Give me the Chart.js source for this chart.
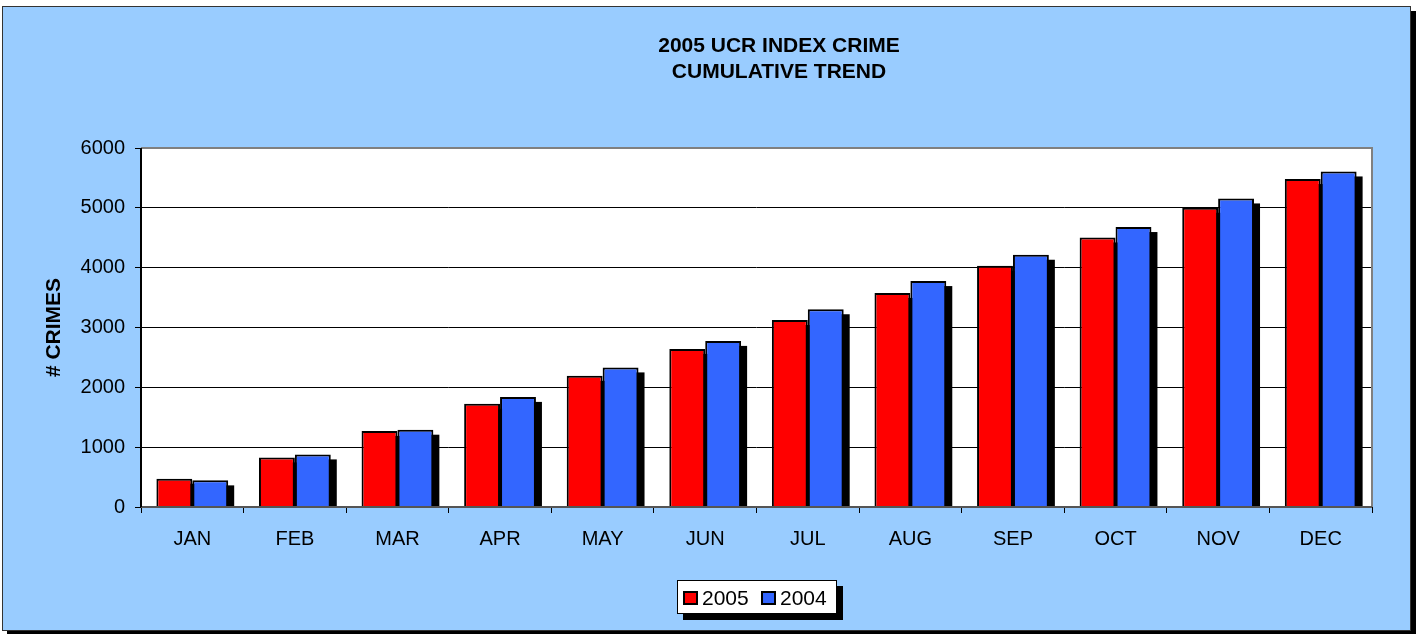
<!DOCTYPE html>
<html>
<head>
<meta charset="utf-8">
<script src="https://cdn.jsdelivr.net/npm/chart.js@4.4.1/dist/chart.umd.min.js"></script>
<style>
html,body{margin:0;padding:0;background:#fff;}
#wrap{position:relative;width:1416px;height:634px;}
canvas{display:block;}
</style>
</head>
<body>
<div id="wrap"><canvas id="c" width="1416" height="634"></canvas></div>
<script>
const months = ['JAN','FEB','MAR','APR','MAY','JUN','JUL','AUG','SEP','OCT','NOV','DEC'];
const crimes2005 = [473, 829, 1272, 1726, 2192, 2642, 3125, 3578, 4032, 4505, 5001, 5481];
const crimes2004 = [445, 879, 1292, 1840, 2333, 2776, 3305, 3776, 4216, 4679, 5157, 5608];
const seriesNames = ['2005', '2004'];
const seriesColors = ['#FF0000', '#3366FF'];
const titleLines = ['2005 UCR INDEX CRIME', 'CUMULATIVE TREND'];
const yAxisTitle = '# CRIMES';
const yTicks = [0, 1000, 2000, 3000, 4000, 5000, 6000];

const FONT = '"Liberation Sans", Arial, Helvetica, sans-serif';

const framePlugin = {
  id: 'frame',
  beforeDraw(chart) {
    const ctx = chart.ctx;
    const a = chart.chartArea;
    ctx.save();
    ctx.fillStyle = '#FFFFFF';
    ctx.fillRect(0, 0, chart.width, chart.height);
    ctx.fillStyle = '#000000';
    ctx.fillRect(7, 11, chart.width - 7, chart.height - 11);
    ctx.fillStyle = '#99CCFF';
    ctx.fillRect(2, 6, 1409, 625);
    ctx.strokeStyle = '#333333';
    ctx.lineWidth = 1;
    ctx.strokeRect(2.5, 6.5, 1408, 624);
    ctx.fillStyle = '#FFFFFF';
    ctx.fillRect(a.left, a.top, a.right - a.left, a.bottom - a.top);
    ctx.restore();
  },
  beforeDatasetsDraw(chart) {
    const ctx = chart.ctx;
    const a = chart.chartArea;
    ctx.save();
    ctx.beginPath();
    ctx.rect(a.left, a.top, a.right - a.left, a.bottom - a.top - 1);
    ctx.clip();
    ctx.fillStyle = '#000000';
    chart.data.datasets.forEach((ds, i) => {
      const meta = chart.getDatasetMeta(i);
      meta.data.forEach(bar => {
        const p = bar.getProps(['x', 'y', 'base', 'width'], true);
        ctx.fillRect(p.x - p.width / 2 + 6, p.y + 5, p.width, p.base - p.y);
      });
    });
    ctx.restore();
  },
  afterDatasetsDraw(chart) {
    const ctx = chart.ctx;
    const a = chart.chartArea;
    ctx.save();
    ctx.strokeStyle = '#808080';
    ctx.lineWidth = 2;
    ctx.beginPath();
    ctx.moveTo(a.left, a.top);
    ctx.lineTo(a.right, a.top);
    ctx.lineTo(a.right, a.bottom);
    ctx.stroke();
    ctx.strokeStyle = '#555555';
    ctx.lineWidth = 2;
    ctx.beginPath();
    ctx.moveTo(a.left, a.bottom);
    ctx.lineTo(a.right, a.bottom);
    ctx.stroke();
    ctx.strokeStyle = '#000000';
    ctx.lineWidth = 2;
    ctx.beginPath();
    ctx.moveTo(a.left, a.top);
    ctx.lineTo(a.left, a.bottom);
    ctx.stroke();
    ctx.restore();
  },
  afterDraw(chart) {
    const ctx = chart.ctx;
    ctx.save();
    ctx.fillStyle = '#000000';
    ctx.font = 'bold 21px ' + FONT;
    ctx.textAlign = 'center';
    ctx.textBaseline = 'middle';
    ctx.fillText(titleLines[0], 779, 46);
    ctx.fillText(titleLines[1], 779, 72);
    const lx = 677, ly = 580, lw = 160, lh = 34;
    ctx.fillStyle = '#000000';
    ctx.fillRect(lx + 6, ly + 6, lw, lh);
    ctx.fillStyle = '#FFFFFF';
    ctx.fillRect(lx, ly, lw, lh);
    ctx.strokeStyle = '#000000';
    ctx.lineWidth = 1;
    ctx.strokeRect(lx + 0.5, ly + 0.5, lw - 1, lh - 1);
    const items = [
      {sx: 683, tx: 702, name: seriesNames[0], color: seriesColors[0]},
      {sx: 761, tx: 780, name: seriesNames[1], color: seriesColors[1]}
    ];
    ctx.font = '21px ' + FONT;
    ctx.textAlign = 'left';
    ctx.textBaseline = 'middle';
    items.forEach(it => {
      ctx.fillStyle = it.color;
      ctx.fillRect(it.sx, 591, 15, 14);
      ctx.strokeStyle = '#000000';
      ctx.lineWidth = 2;
      ctx.strokeRect(it.sx + 1, 592, 13, 12);
      ctx.fillStyle = '#000000';
      ctx.fillText(it.name, it.tx, 599);
    });
    ctx.restore();
  }
};

new Chart(document.getElementById('c'), {
  type: 'bar',
  data: {
    labels: months,
    datasets: [
      {label: seriesNames[0], data: crimes2005, backgroundColor: seriesColors[0], borderColor: '#000000', borderWidth: 2, categoryPercentage: 0.70, barPercentage: 1.0},
      {label: seriesNames[1], data: crimes2004, backgroundColor: seriesColors[1], borderColor: '#000000', borderWidth: 2, categoryPercentage: 0.70, barPercentage: 1.0}
    ]
  },
  options: {
    responsive: false,
    animation: false,
    devicePixelRatio: 1,
    layout: {padding: {left: 0, top: 148, right: 44, bottom: 0}},
    plugins: {
      legend: {display: false},
      title: {display: false},
      tooltip: {enabled: false}
    },
    scales: {
      x: {
        grid: {display: true, offset: true, drawOnChartArea: false, drawTicks: true, tickLength: 6, color: '#000000', lineWidth: 1},
        border: {display: false},
        ticks: {color: '#000000', font: {family: FONT, size: 20}, padding: 14, maxRotation: 0, autoSkip: false},
        afterFit(scale) { scale.height = 127; }
      },
      y: {
        min: 0,
        max: 6000,
        afterBuildTicks(scale) { scale.ticks = yTicks.map(v => ({value: v})); },
        grid: {color: '#000000', lineWidth: 1, tickLength: 6, drawTicks: true},
        border: {display: false},
        ticks: {color: '#000000', font: {family: FONT, size: 20}, padding: 10, callback: (v) => String(v)},
        title: {display: true, text: yAxisTitle, color: '#000000', font: {family: FONT, size: 21, weight: 'bold'}, padding: {top: 42, bottom: 0}},
        afterFit(scale) { scale.width = 141; }
      }
    }
  },
  plugins: [framePlugin]
});
</script>
</body>
</html>
